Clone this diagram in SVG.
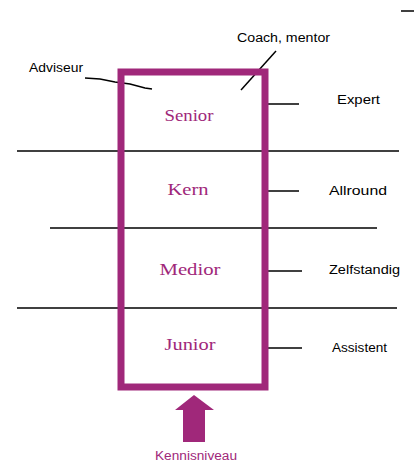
<svg xmlns="http://www.w3.org/2000/svg" width="414" height="470" viewBox="0 0 414 470">
<style>
.lbl{font-family:"Liberation Sans",Arial,sans-serif;font-size:12px;fill:#000}
.lvl{font-family:"Liberation Serif","Times New Roman",serif;font-size:16px;fill:#a0287a;text-anchor:middle}
.ln{stroke:#000;stroke-width:1.5;fill:none}
.pm{fill:#a0287a}
</style>
<rect width="414" height="470" fill="#fff"/>
<g id="connectors">
<line class="ln" x1="401" y1="11" x2="414" y2="11"/>
<line class="ln" x1="17" y1="151" x2="399" y2="151"/>
<line class="ln" x1="50" y1="228" x2="377" y2="228"/>
<line class="ln" x1="17" y1="308" x2="397" y2="308"/>
<line class="ln" x1="265" y1="104" x2="299" y2="104"/>
<line class="ln" x1="265" y1="191" x2="299" y2="191"/>
<line class="ln" x1="265" y1="271" x2="302" y2="271"/>
<line class="ln" x1="265" y1="348" x2="302" y2="348"/>
<polyline class="ln" points="85,78 100,79 115,82 130,84 145,88 152,89"/>
<line class="ln" x1="276" y1="51" x2="241" y2="90"/>
</g>
<g id="levels">
<rect x="121" y="72" width="144" height="315" fill="none" stroke="#a0287a" stroke-width="7"/>
</g>
<g id="senior"><text class="lvl" x="189" y="121" textLength="49" lengthAdjust="spacingAndGlyphs">Senior</text></g>
<g id="kern"><text class="lvl" x="188" y="195" textLength="41" lengthAdjust="spacingAndGlyphs">Kern</text></g>
<g id="medior"><text class="lvl" x="190" y="275" textLength="61" lengthAdjust="spacingAndGlyphs">Medior</text></g>
<g id="junior"><text class="lvl" x="190" y="350" textLength="51" lengthAdjust="spacingAndGlyphs">Junior</text></g>
<g id="adviseur"><text class="lbl" x="29" y="72" textLength="54" lengthAdjust="spacingAndGlyphs">Adviseur</text></g>
<g id="coach"><text class="lbl" x="237" y="42" textLength="93" lengthAdjust="spacingAndGlyphs">Coach, mentor</text></g>
<g id="expert"><text class="lbl" x="337" y="104" textLength="43" lengthAdjust="spacingAndGlyphs">Expert</text></g>
<g id="allround"><text class="lbl" x="329" y="195" textLength="58" lengthAdjust="spacingAndGlyphs">Allround</text></g>
<g id="zelfstandig"><text class="lbl" x="329" y="274" textLength="71" lengthAdjust="spacingAndGlyphs">Zelfstandig</text></g>
<g id="assistent"><text class="lbl" x="332" y="352" textLength="55" lengthAdjust="spacingAndGlyphs">Assistent</text></g>
<g id="kennisniveau">
<polygon class="pm" points="183,442 205,442 205,410 214,410 194,395 175,410 183,410"/>
<text class="lbl" x="196" y="460" text-anchor="middle" fill="#a0287a" style="fill:#a0287a" textLength="82" lengthAdjust="spacingAndGlyphs">Kennisniveau</text>
</g>
</svg>
